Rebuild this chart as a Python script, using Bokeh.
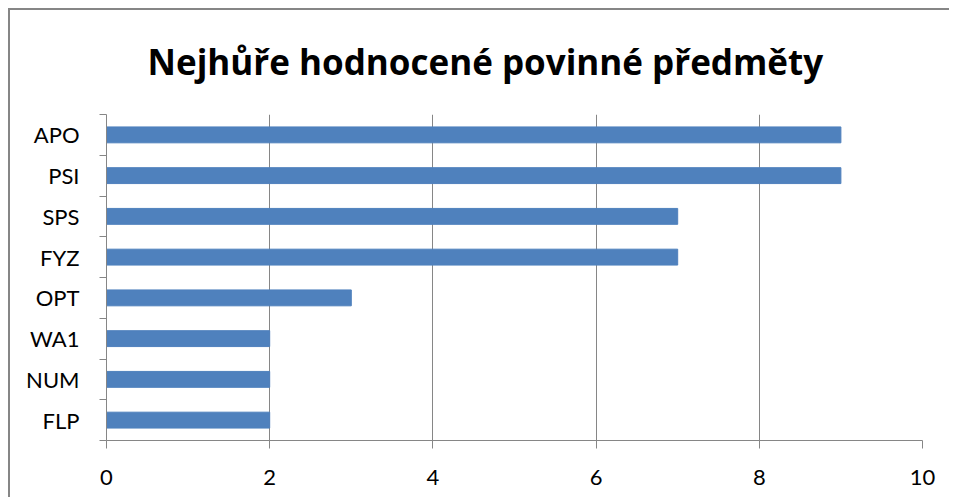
from bokeh.plotting import figure
from bokeh.models import FixedTicker, Range1d, ColumnDataSource
from bokeh.embed import file_html
from bokeh.resources import INLINE

subjects = ["APO", "PSI", "SPS", "FYZ", "OPT", "WA1", "NUM", "FLP"]
counts = [9, 9, 7, 7, 3, 2, 2, 2]
x_ticks = [0, 2, 4, 6, 8, 10]
title_text = "Nejhůře hodnocené povinné předměty"

n = len(subjects)
ypos = [n - 1 - i + 0.5 for i in range(n)]
src = ColumnDataSource(dict(y=ypos, right=counts, name=subjects))

GRAY = "#868686"
FONT = "Lato"

p = figure(width=949, height=497, output_backend="svg", toolbar_location=None,
           x_range=Range1d(0, 10), y_range=Range1d(0, n),
           min_border_left=106, min_border_right=27, min_border_top=114,
           min_border_bottom=57, title=title_text)
# chart-area frame (top and left edges) drawn behind the transparent canvas border
p.styles = {"background": "linear-gradient(#868686, #868686) 8px 8px / 100% 2px no-repeat, "
                          "linear-gradient(#868686, #868686) 8px 8px / 2px 100% no-repeat"}
p.border_fill_color = None
p.background_fill_color = "white"
p.outline_line_color = None

p.hbar(y="y", right="right", left=0, height=0.39, source=src, color="#4F81BD")

p.title.align = "left"
p.title.text_font = "Open Sans"
p.title.text_font_style = "bold"
p.title.text_font_size = "35px"
p.title.text_color = "black"
p.title.offset = 41
p.title.standoff = 60

p.xaxis.ticker = FixedTicker(ticks=x_ticks)
p.xaxis.major_tick_out = 8
p.xaxis.major_tick_in = 0
p.xaxis.minor_tick_line_color = None
p.xaxis.axis_line_color = GRAY
p.xaxis.major_tick_line_color = GRAY
p.xaxis.major_label_text_font = FONT
p.xaxis.major_label_text_font_size = "22px"
p.xaxis.major_label_text_color = "black"
p.xaxis.major_label_standoff = 21

p.yaxis.ticker = FixedTicker(ticks=ypos, minor_ticks=list(range(n + 1)))
p.yaxis.major_label_overrides = {y: s for y, s in zip(ypos, subjects)}
p.yaxis.major_tick_out = 0
p.yaxis.major_tick_in = 0
p.yaxis.minor_tick_out = 7
p.yaxis.minor_tick_in = 0
p.yaxis.minor_tick_line_color = GRAY
p.yaxis.axis_line_color = GRAY
p.yaxis.major_label_text_font = FONT
p.yaxis.major_label_text_font_size = "22px"
p.yaxis.major_label_text_color = "black"
p.yaxis.major_label_standoff = 20

p.xgrid.ticker = FixedTicker(ticks=x_ticks)
p.xgrid.grid_line_color = GRAY
p.ygrid.grid_line_color = None

open("out.html", "w").write(file_html(p, INLINE))
